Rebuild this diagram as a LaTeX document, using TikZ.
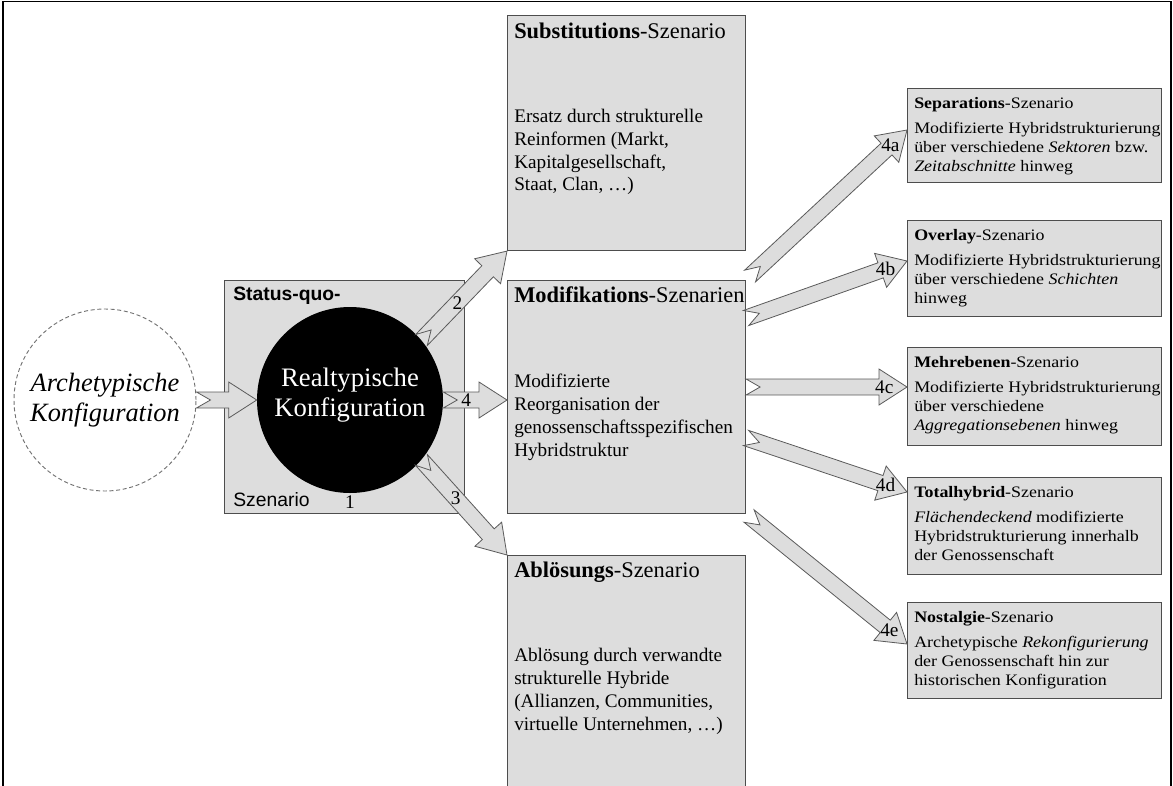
\documentclass[tikz,border=0pt]{standalone}
\usepackage{fontspec}
\setmainfont{Liberation Serif}
\setsansfont{Liberation Sans}
\newfontfamily\widefont[FakeStretch=1.12]{Liberation Serif}
\usepackage{tikz}
\usetikzlibrary{positioning, calc}
\definecolor{boxgray}{HTML}{DDDDDD}
\definecolor{boxline}{HTML}{4D4D4D}
\definecolor{arrowline}{HTML}{5A5A5A}

% notched block arrow from #1 to #2
\newcommand{\fatarrow}[2]{%
  \coordinate (hb) at ($(#2)!21pt!(#1)$);
  \coordinate (nt) at ($(#1)!10.5pt!(#2)$);
  \draw[fat] ($(#1)!6pt!90:(#2)$) -- (nt) -- ($(#1)!6pt!-90:(#2)$)
    -- ($(hb)!6pt!-90:(#2)$) -- ($(hb)!13.5pt!-90:(#2)$) -- (#2)
    -- ($(hb)!13.5pt!90:(#2)$) -- ($(hb)!6pt!90:(#2)$) -- cycle;
}

\begin{document}
\begin{tikzpicture}[x=0.75pt, y=-0.75pt,
    box/.style={draw=boxline, fill=boxgray, line width=0.8pt, rectangle, inner sep=0pt, anchor=north west},
    midtitle/.style={anchor=base west, inner sep=0pt, font=\fontsize{16.8}{20}\selectfont},
    midtext/.style={anchor=north west, inner sep=0pt, align=left, font=\fontsize{14.4}{17.1}\selectfont},
    sidetitle/.style={anchor=base west, inner sep=0pt, font=\widefont\fontsize{12}{14}\selectfont},
    sidetext/.style={anchor=north west, inner sep=0pt, align=left, font=\widefont\fontsize{12}{14.25}\selectfont},
    fat/.style={draw=arrowline, fill=boxgray, line width=0.6pt, line join=miter},
    num/.style={inner sep=0pt, font=\fontsize{14.5}{16}\selectfont}]
  \useasboundingbox (0,0) rectangle (1173,785);
  \clip (0,0) rectangle (1173,785);

  % --- frame ---
  \draw[line width=1.2pt] (3,800) -- (3,1.5) -- (1171,1.5) -- (1171,800);

  % --- STATUS QUO (left) ---
  \node (arche) [circle, draw=black!55, line width=0.7pt, dash pattern=on 3pt off 2pt, minimum size=136.5pt, align=center, font=\itshape\fontsize{19.8}{22.5}\selectfont] at (105,400) {Archetypische\\Konfiguration};
  \node (sq) [box, minimum width=180pt, minimum height=174.75pt] at (224,280) {};
  \node (sqT) [anchor=base west, inner sep=0pt, font=\sffamily\bfseries\fontsize{14.5}{16}\selectfont] at ($(sq.north west)+(9,20)$) {Status-quo-};
  \node (sqB) [anchor=base west, inner sep=0pt, font=\sffamily\fontsize{14.5}{16}\selectfont] at ($(sq.south west)+(9,-8)$) {Szenario};
  \node (real) [circle, fill=black, text=white, minimum size=139.5pt, text depth=12pt, align=center, font=\fontsize{20}{22.5}\selectfont] at (350,400) {Realtypische\\Konfiguration};
  \node (n1) [num] at (350,502) {1};

  % --- MIDDLE SCENARIOS ---
  \node (subst) [box, minimum width=178.5pt, minimum height=176.25pt] at (507,15) {};
  \node (substT) [midtitle] at ($(subst.north west)+(7,23)$) {\textbf{Substitutions}-Szenario};
  \node (substB) [midtext] at ($(subst.north west)+(7,94)$) {Ersatz durch strukturelle\\Reinformen (Markt,\\Kapitalgesellschaft,\\Staat, Clan, …)};

  \node (modif) [box, minimum width=178.5pt, minimum height=174.75pt] at (507,280) {};
  \node (modifT) [midtitle] at ($(modif.north west)+(7,22)$) {\textbf{Modifikations}-Szenarien};
  \node (modifB) [midtext] at ($(modif.north west)+(7,94)$) {Modifizierte\\Reorganisation der\\genossenschaftsspezifischen\\Hybridstruktur};

  \node (abl) [box, minimum width=178.5pt, minimum height=183.75pt] at (507,555) {};
  \node (ablT) [midtitle] at ($(abl.north west)+(7,22)$) {\textbf{Ablösungs}-Szenario};
  \node (ablB) [midtext] at ($(abl.north west)+(7,93)$) {Ablösung durch verwandte\\strukturelle Hybride\\(Allianzen, Communities,\\virtuelle Unternehmen, …)};

  % --- RIGHT SCENARIOS ---
  \node (sep) [box, minimum width=190.5pt, minimum height=70.5pt] at (907,88) {};
  \node (sepT) [sidetitle] at ($(sep.north west)+(7,20)$) {\textbf{Separations}-Szenario};
  \node (sepB) [sidetext] at ($(sep.north west)+(7,34)$) {Modifizierte Hybridstrukturierung\\über verschiedene \textit{Sektoren} bzw.\\\textit{Zeitabschnitte} hinweg};

  \node (ovl) [box, minimum width=190.5pt, minimum height=72pt] at (907,220) {};
  \node (ovlT) [sidetitle] at ($(ovl.north west)+(7,20)$) {\textbf{Overlay}-Szenario};
  \node (ovlB) [sidetext] at ($(ovl.north west)+(7,34)$) {Modifizierte Hybridstrukturierung\\über verschiedene \textit{Schichten}\\hinweg};

  \node (mehr) [box, minimum width=190.5pt, minimum height=73.5pt] at (907,347) {};
  \node (mehrT) [sidetitle] at ($(mehr.north west)+(7,20)$) {\textbf{Mehrebenen}-Szenario};
  \node (mehrB) [sidetext] at ($(mehr.north west)+(7,34)$) {Modifizierte Hybridstrukturierung\\über verschiedene\\\textit{Aggregationsebenen} hinweg};

  \node (total) [box, minimum width=190.5pt, minimum height=72.75pt] at (907,477) {};
  \node (totalT) [sidetitle] at ($(total.north west)+(7,20)$) {\textbf{Totalhybrid}-Szenario};
  \node (totalB) [sidetext] at ($(total.north west)+(7,34)$) {\textit{Flächendeckend} modifizierte\\Hybridstrukturierung innerhalb\\der Genossenschaft};

  \node (nost) [box, minimum width=190.5pt, minimum height=72pt] at (907,602) {};
  \node (nostT) [sidetitle] at ($(nost.north west)+(7,20)$) {\textbf{Nostalgie}-Szenario};
  \node (nostB) [sidetext] at ($(nost.north west)+(7,34)$) {Archetypische \textit{Rekonfigurierung}\\der Genossenschaft hin zur\\historischen Konfiguration};

  % --- Arrows from status quo ---
  \fatarrow{arche.east}{real.west}
  \fatarrow{real.40}{subst.south west}
  \fatarrow{real.east}{modif.west |- real.east}
  \fatarrow{real.-40}{abl.north west}
  \node (n2) [num] at ($(real.40)!0.42!(subst.south west)$) {2};
  \node (n3) [num] at ($(real.-40)!0.4!(abl.north west)$) {3};
  \node (n4) [num] at ($(real.east)!0.36!(modif.west |- real.east)$) {4};

  % --- Arrows 4a-4e ---
  \coordinate (tail4a) at ($(modif.north east)+(4,-4)$);
  \coordinate (tip4a) at ($(sep.north west)+(0,42)$);
  \coordinate (tail4b) at ($(modif.north east)+(0,38)$);
  \coordinate (tip4b) at ($(ovl.north west)+(0,41)$);
  \coordinate (tip4c) at ($(mehr.north west)+(0,40)$);
  \coordinate (tail4c) at (modif.east |- tip4c);
  \coordinate (tail4d) at ($(modif.north east)+(0,158)$);
  \coordinate (tip4d) at ($(total.north west)+(0,15)$);
  \coordinate (tail4e) at ($(modif.south east)+(3,2)$);
  \coordinate (tip4e) at ($(nost.north west)+(0,42)$);
  \foreach \k in {a,b,c,d,e} {
    \fatarrow{tail4\k}{tip4\k}
    \node (l4\k) [num] at ($(tip4\k)!17pt!(tail4\k)$) {4\k};
  }
\end{tikzpicture}
\end{document}
